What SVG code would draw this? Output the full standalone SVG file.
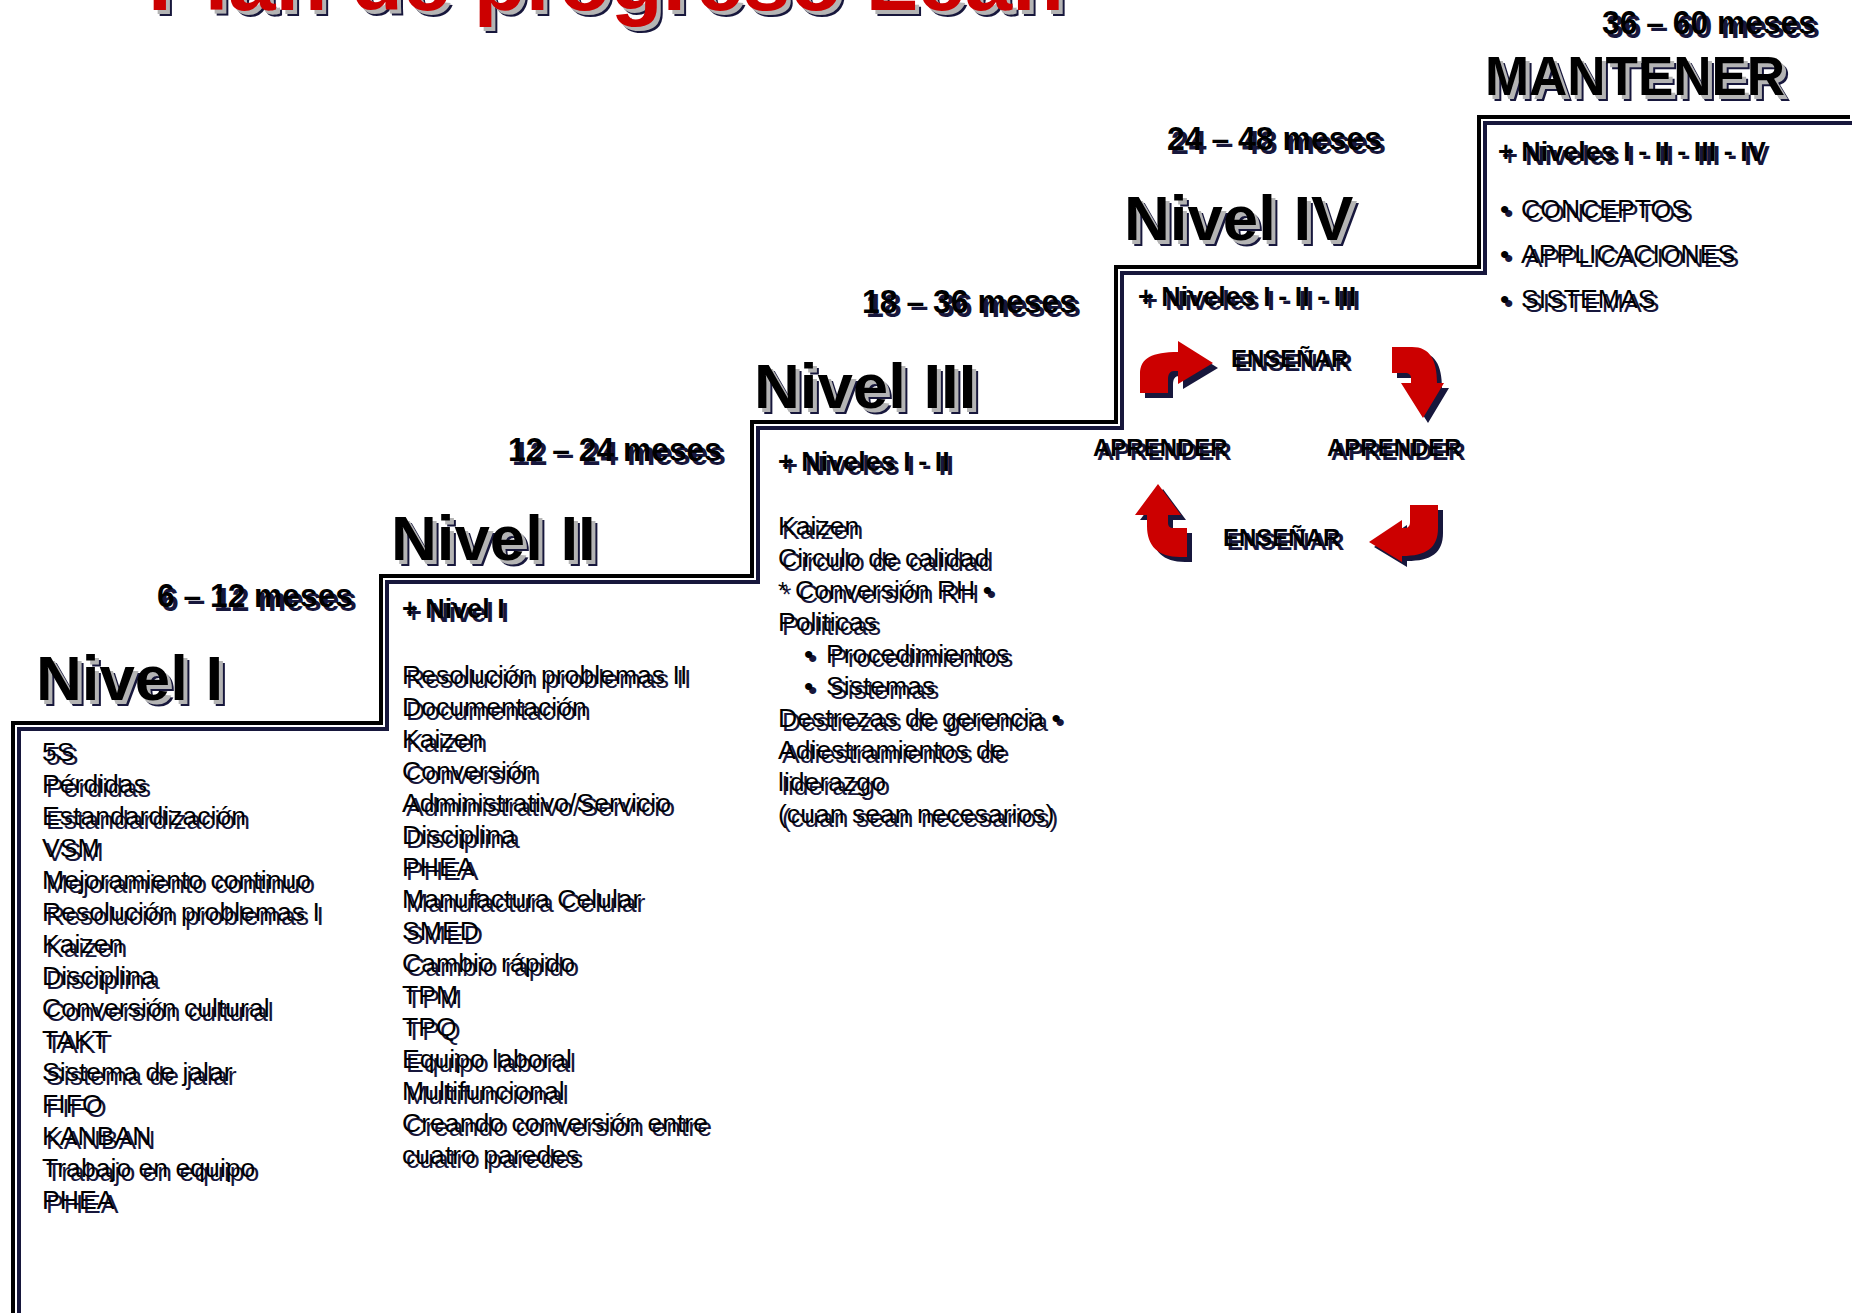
<svg xmlns="http://www.w3.org/2000/svg" xmlns:xlink="http://www.w3.org/1999/xlink" width="1854" height="1313" viewBox="0 0 1854 1313">
<style>
  .r { font-family: "Liberation Sans", Arial, sans-serif; font-size: 26.6px; }
  .b { font-family: "Liberation Sans", Arial, sans-serif; font-weight: bold; }
  .sh { fill: #17173c; }
  .gr { fill: #b4b4b4; }
  .k { fill: #000000; }
  .red { fill: #cc0000; }
  .stair { fill: none; stroke-width: 4; stroke-linecap: square; stroke-linejoin: miter; }
</style>
<defs>
  <g id="t-title"><text class="b" x="148" y="10" font-size="84" textLength="916" lengthAdjust="spacingAndGlyphs">Plan de progreso Lean</text></g>

  <g id="h1"><text class="b" x="36" y="700" font-size="63.5">Nivel I</text></g>
  <g id="h2"><text class="b" x="391" y="560" font-size="63.5">Nivel II</text></g>
  <g id="h3"><text class="b" x="754" y="408" font-size="63.5">Nivel III</text></g>
  <g id="h4"><text class="b" x="1124" y="240" font-size="63.5">Nivel IV</text></g>
  <g id="h5"><text class="b" x="1485" y="95" font-size="55" textLength="300" lengthAdjust="spacingAndGlyphs">MANTENER</text></g>

  <g id="m1"><text class="b" x="157" y="607" font-size="34" textLength="196" lengthAdjust="spacingAndGlyphs">6 – 12 meses</text></g>
  <g id="m2"><text class="b" x="508" y="461" font-size="34" textLength="214" lengthAdjust="spacingAndGlyphs">12 – 24 meses</text></g>
  <g id="m3"><text class="b" x="862" y="313" font-size="34" textLength="215" lengthAdjust="spacingAndGlyphs">18 – 36 meses</text></g>
  <g id="m4"><text class="b" x="1167" y="150" font-size="34" textLength="215" lengthAdjust="spacingAndGlyphs">24 – 48 meses</text></g>
  <g id="m5"><text class="b" x="1602" y="34" font-size="34" textLength="214" lengthAdjust="spacingAndGlyphs">36 – 60 meses</text></g>

  <g id="l1">
    <text class="r" x="42" y="761">5S</text>
    <text class="r" x="42" y="793">Pérdidas</text>
    <text class="r" x="42" y="825">Estandardización</text>
    <text class="r" x="42" y="857">VSM</text>
    <text class="r" x="42" y="889">Mejoramiento continuo</text>
    <text class="r" x="42" y="921">Resolución problemas I</text>
    <text class="r" x="42" y="953">Kaizen</text>
    <text class="r" x="42" y="985">Disciplina</text>
    <text class="r" x="42" y="1017">Conversión cultural</text>
    <text class="r" x="42" y="1049">TAKT</text>
    <text class="r" x="42" y="1081">Sistema de jalar</text>
    <text class="r" x="42" y="1113">FIFO</text>
    <text class="r" x="42" y="1145">KANBAN</text>
    <text class="r" x="42" y="1177">Trabajo en equipo</text>
    <text class="r" x="42" y="1209">PHEA</text>
  </g>

  <g id="l2">
    <text class="b" x="402" y="618" font-size="27">+ Nivel I</text>
    <text class="r" x="402" y="684">Resolución problemas II</text>
    <text class="r" x="402" y="716">Documentación</text>
    <text class="r" x="402" y="748">Kaizen</text>
    <text class="r" x="402" y="780">Conversión</text>
    <text class="r" x="402" y="812">Administrativo/Servicio</text>
    <text class="r" x="402" y="844">Disciplina</text>
    <text class="r" x="402" y="876">PHEA</text>
    <text class="r" x="402" y="908">Manufactura Celular</text>
    <text class="r" x="402" y="940">SMED</text>
    <text class="r" x="402" y="972">Cambio rápido</text>
    <text class="r" x="402" y="1004">TPM</text>
    <text class="r" x="402" y="1036">TPQ</text>
    <text class="r" x="402" y="1068">Equipo laboral</text>
    <text class="r" x="402" y="1100">Multifuncional</text>
    <text class="r" x="402" y="1132">Creando conversión entre</text>
    <text class="r" x="402" y="1164">cuatro paredes</text>
  </g>

  <g id="l3">
    <text class="b" x="778" y="471" font-size="27">+ Niveles I - II</text>
    <text class="r" x="778" y="535">Kaizen</text>
    <text class="r" x="778" y="567">Circulo de calidad</text>
    <text class="r" x="778" y="599"><tspan font-size="24">*</tspan><tspan x="795">Conversión RH •</tspan></text>
    <text class="r" x="778" y="631">Politicas</text>
    <text class="r" x="804" y="663">•<tspan x="826">Procedimientos</tspan></text>
    <text class="r" x="804" y="695">•<tspan x="826">Sistemas</tspan></text>
    <text class="r" x="778" y="727">Destrezas de gerencia •</text>
    <text class="r" x="778" y="759">Adiestramientos de</text>
    <text class="r" x="778" y="791">liderazgo</text>
    <text class="r" x="778" y="823">(cuan sean necesarios)</text>
  </g>

  <g id="l4">
    <text class="b" x="1138" y="306" font-size="27">+ Niveles I - II - III</text>
    <text class="b" x="1231" y="367" font-size="24">ENSEÑAR</text>
    <text class="b" x="1093" y="456" font-size="24">APRENDER</text>
    <text class="b" x="1327" y="456" font-size="24">APRENDER</text>
    <text class="b" x="1223" y="546" font-size="24">ENSEÑAR</text>
  </g>

  <g id="l5">
    <text class="b" x="1498" y="161" font-size="27">+ Niveles I - II - III - IV</text>
    <text class="r" x="1500" y="218">•<tspan x="1521">CONCEPTOS</tspan></text>
    <text class="r" x="1500" y="263">•<tspan x="1521">APPLICACIONES</tspan></text>
    <text class="r" x="1500" y="308">•<tspan x="1521">SISTEMAS</tspan></text>
  </g>

  <g id="arrows">
    <path d="M1140,393 V374 C1140,358 1152,352 1178,352 V341 L1213,363 L1178,384 V371 H1174 C1170,371 1168,374 1168,379 V393 Z"/>
    <path d="M1392,347 H1412 C1430,347 1437,360 1437,383 H1444 L1423,418 L1401,383 H1411 V378 C1411,375 1409,373 1405,373 H1392 Z"/>
    <path d="M1410,505 H1438 V528 C1438,548 1426,556 1402,556 V562 L1369,542 L1402,520 V528 H1405 C1408,528 1410,526 1410,522 Z"/>
    <path d="M1187,557 H1180 C1158,557 1147,546 1147,526 V515 H1135 L1158,484 L1181,515 H1168 V523 C1168,526 1170,528 1173,528 H1187 Z"/>
  </g>
</defs>

<rect x="0" y="0" width="1854" height="1313" fill="#ffffff"/>

<g id="stairs">
  <path class="stair" stroke="#17173c" d="M19,1313 V729 H387 V582 H758 V428 H1122 V273 H1485 V123 H1850"/>
  <path class="stair" stroke="#000000" d="M13,1313 V723 H381 V576 H752 V422 H1116 V267 H1479 V117 H1848"/>
</g>

<g id="title">
  <use href="#t-title" class="sh" transform="translate(6,6)"/>
  <use href="#t-title" class="gr" transform="translate(4,4)"/>
  <use href="#t-title" class="red"/>
</g>

<g id="nivel-1">
  <use href="#h1" class="sh" transform="translate(6,6)"/>
  <use href="#h1" class="gr" transform="translate(4,4)"/>
  <use href="#h1" class="k"/>
  <use href="#m1" class="sh" transform="translate(4,4)"/>
  <use href="#m1" class="k"/>
  <use href="#l1" class="sh" transform="translate(4,4)"/>
  <use href="#l1" class="k"/>
</g>

<g id="nivel-2">
  <use href="#h2" class="sh" transform="translate(6,6)"/>
  <use href="#h2" class="gr" transform="translate(4,4)"/>
  <use href="#h2" class="k"/>
  <use href="#m2" class="sh" transform="translate(4,4)"/>
  <use href="#m2" class="k"/>
  <use href="#l2" class="sh" transform="translate(4,4)"/>
  <use href="#l2" class="k"/>
</g>

<g id="nivel-3">
  <use href="#h3" class="sh" transform="translate(6,6)"/>
  <use href="#h3" class="gr" transform="translate(4,4)"/>
  <use href="#h3" class="k"/>
  <use href="#m3" class="sh" transform="translate(4,4)"/>
  <use href="#m3" class="k"/>
  <use href="#l3" class="sh" transform="translate(4,4)"/>
  <use href="#l3" class="k"/>
</g>

<g id="nivel-4">
  <use href="#h4" class="sh" transform="translate(6,6)"/>
  <use href="#h4" class="gr" transform="translate(4,4)"/>
  <use href="#h4" class="k"/>
  <use href="#m4" class="sh" transform="translate(4,4)"/>
  <use href="#m4" class="k"/>
  <use href="#arrows" class="sh" transform="translate(5,5)"/>
  <use href="#arrows" class="red"/>
  <use href="#l4" class="sh" transform="translate(4,4)"/>
  <use href="#l4" class="k"/>
</g>

<g id="mantener">
  <use href="#h5" class="sh" transform="translate(6,6)"/>
  <use href="#h5" class="gr" transform="translate(4,4)"/>
  <use href="#h5" class="k"/>
  <use href="#m5" class="sh" transform="translate(4,4)"/>
  <use href="#m5" class="k"/>
  <use href="#l5" class="sh" transform="translate(4,4)"/>
  <use href="#l5" class="k"/>
</g>
</svg>
